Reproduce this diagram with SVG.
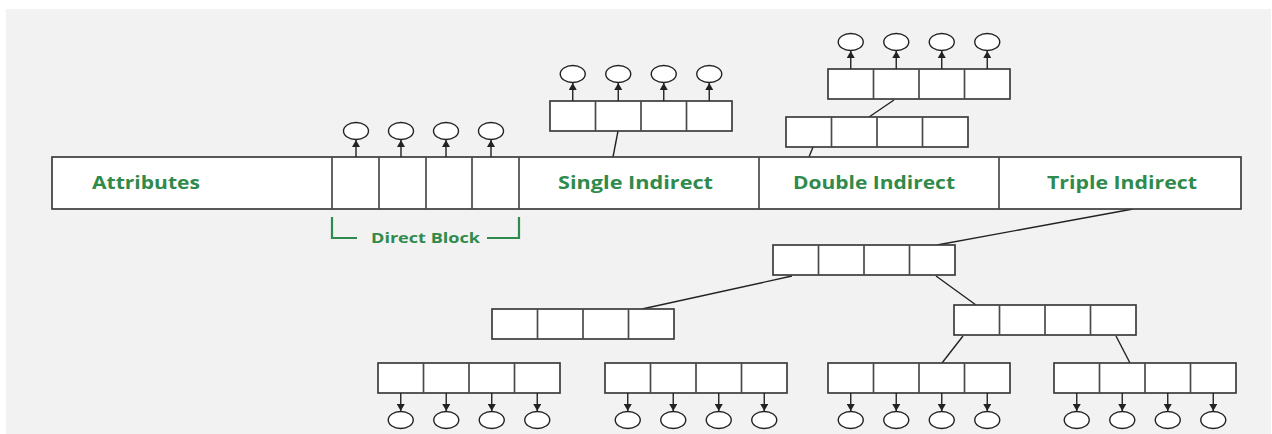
<svg xmlns="http://www.w3.org/2000/svg" width="1272" height="434" viewBox="0 0 1272 434">
  <style>
    .box { fill: #ffffff; stroke: #3c3c3c; stroke-width: 1.7; }
    .div { stroke: #4a4a4a; stroke-width: 1.7; }
    .ptr { fill: #ffffff; stroke: #222222; stroke-width: 1.4; }
    .link { stroke: #222222; stroke-width: 1.4; fill: none; }
    .arrow { stroke: #222222; stroke-width: 1.4; fill: none; marker-end: url(#head); }
    .label { font-family: "Open Sans", "Noto Sans", "Liberation Sans", sans-serif; font-weight: bold; fill: #2f8a4b; }
    .bracket { stroke: #2f8a4b; stroke-width: 2.2; fill: none; }
  </style>
  <defs>
    <marker id="head" markerUnits="userSpaceOnUse" markerWidth="8" markerHeight="8" refX="7" refY="4" orient="auto">
      <path d="M0,0 L7,4 L0,8 z" fill="#222222"/>
    </marker>
    <!-- a four-slot pointer block, 182 x 30 -->
    <g id="block4">
      <rect class="box" x="0" y="0" width="182" height="30"/>
      <line class="div" x1="45.5" y1="0" x2="45.5" y2="30"/>
      <line class="div" x1="91" y1="0" x2="91" y2="30"/>
      <line class="div" x1="136.5" y1="0" x2="136.5" y2="30"/>
    </g>
    <!-- four data blocks reached upward from a pointer block -->
    <g id="upData">
      <line class="arrow" x1="22.75" y1="0" x2="22.75" y2="-18"/>
      <line class="arrow" x1="68.25" y1="0" x2="68.25" y2="-18"/>
      <line class="arrow" x1="113.75" y1="0" x2="113.75" y2="-18"/>
      <line class="arrow" x1="159.25" y1="0" x2="159.25" y2="-18"/>
      <ellipse class="ptr" cx="22.75" cy="-27" rx="12.5" ry="8.5"/>
      <ellipse class="ptr" cx="68.25" cy="-27" rx="12.5" ry="8.5"/>
      <ellipse class="ptr" cx="113.75" cy="-27" rx="12.5" ry="8.5"/>
      <ellipse class="ptr" cx="159.25" cy="-27" rx="12.5" ry="8.5"/>
    </g>
    <!-- four data blocks reached downward from a pointer block -->
    <g id="downData">
      <line class="arrow" x1="22.75" y1="30" x2="22.75" y2="48"/>
      <line class="arrow" x1="68.25" y1="30" x2="68.25" y2="48"/>
      <line class="arrow" x1="113.75" y1="30" x2="113.75" y2="48"/>
      <line class="arrow" x1="159.25" y1="30" x2="159.25" y2="48"/>
      <ellipse class="ptr" cx="22.75" cy="57" rx="12.5" ry="8.5"/>
      <ellipse class="ptr" cx="68.25" cy="57" rx="12.5" ry="8.5"/>
      <ellipse class="ptr" cx="113.75" cy="57" rx="12.5" ry="8.5"/>
      <ellipse class="ptr" cx="159.25" cy="57" rx="12.5" ry="8.5"/>
    </g>
  </defs>

  <rect x="0" y="0" width="1272" height="434" fill="#ffffff"/>
  <rect x="6" y="9" width="1265" height="425" fill="#f2f2f2"/>

  <!-- connectors between blocks -->
  <g id="connectors">
    <line class="link" x1="618" y1="131" x2="613" y2="157"/>
    <line class="link" x1="813" y1="147" x2="809" y2="157"/>
    <line class="link" x1="894" y1="100" x2="869" y2="117"/>
    <line class="link" x1="1133" y1="209" x2="937" y2="245"/>
    <line class="link" x1="792" y1="276" x2="642" y2="309"/>
    <line class="link" x1="936" y1="276" x2="976" y2="305"/>
    <line class="link" x1="963" y1="336" x2="942" y2="363"/>
    <line class="link" x1="1116" y1="336" x2="1130" y2="363"/>
  </g>

  <!-- inode -->
  <g id="inode">
    <rect class="box" x="52" y="157" width="1189" height="52"/>
    <line class="div" x1="332" y1="157" x2="332" y2="209"/>
    <line class="div" x1="379" y1="157" x2="379" y2="209"/>
    <line class="div" x1="426" y1="157" x2="426" y2="209"/>
    <line class="div" x1="472" y1="157" x2="472" y2="209"/>
    <line class="div" x1="519" y1="157" x2="519" y2="209"/>
    <line class="div" x1="759" y1="157" x2="759" y2="209"/>
    <line class="div" x1="999" y1="157" x2="999" y2="209"/>
    <text class="label" x="92" y="189" font-size="17" textLength="108" lengthAdjust="spacingAndGlyphs">Attributes</text>
    <text class="label" x="558" y="189" font-size="17" textLength="155" lengthAdjust="spacingAndGlyphs">Single Indirect</text>
    <text class="label" x="793" y="189" font-size="17" textLength="162" lengthAdjust="spacingAndGlyphs">Double Indirect</text>
    <text class="label" x="1047" y="189" font-size="17" textLength="150" lengthAdjust="spacingAndGlyphs">Triple Indirect</text>
  </g>

  <!-- direct data blocks -->
  <g id="direct-data">
    <line class="arrow" x1="356" y1="157" x2="356" y2="140"/>
    <line class="arrow" x1="401" y1="157" x2="401" y2="140"/>
    <line class="arrow" x1="446" y1="157" x2="446" y2="140"/>
    <line class="arrow" x1="491" y1="157" x2="491" y2="140"/>
    <ellipse class="ptr" cx="356" cy="131" rx="12.5" ry="8.5"/>
    <ellipse class="ptr" cx="401" cy="131" rx="12.5" ry="8.5"/>
    <ellipse class="ptr" cx="446" cy="131" rx="12.5" ry="8.5"/>
    <ellipse class="ptr" cx="491" cy="131" rx="12.5" ry="8.5"/>
  </g>

  <g id="direct-bracket">
    <path class="bracket" d="M332,217 V238 H357"/>
    <path class="bracket" d="M487,238 H519 V217"/>
    <text class="label" x="371" y="243" font-size="14.5" textLength="109" lengthAdjust="spacingAndGlyphs">Direct Block</text>
  </g>

  <!-- single indirect -->
  <g id="single-1" transform="translate(550,101)">
    <use href="#block4"/>
    <use href="#upData"/>
  </g>

  <!-- double indirect -->
  <g id="double-1" transform="translate(786,117)">
    <use href="#block4"/>
  </g>
  <g id="double-2" transform="translate(828,69)">
    <use href="#block4"/>
    <use href="#upData"/>
  </g>

  <!-- triple indirect -->
  <g id="triple-1" transform="translate(773,245)">
    <use href="#block4"/>
  </g>
  <g id="triple-2a" transform="translate(492,309)">
    <use href="#block4"/>
  </g>
  <g id="triple-2b" transform="translate(954,305)">
    <use href="#block4"/>
  </g>
  <g id="triple-3a" transform="translate(378,363)">
    <use href="#block4"/>
    <use href="#downData"/>
  </g>
  <g id="triple-3b" transform="translate(605,363)">
    <use href="#block4"/>
    <use href="#downData"/>
  </g>
  <g id="triple-3c" transform="translate(828,363)">
    <use href="#block4"/>
    <use href="#downData"/>
  </g>
  <g id="triple-3d" transform="translate(1054,363)">
    <use href="#block4"/>
    <use href="#downData"/>
  </g>
</svg>
